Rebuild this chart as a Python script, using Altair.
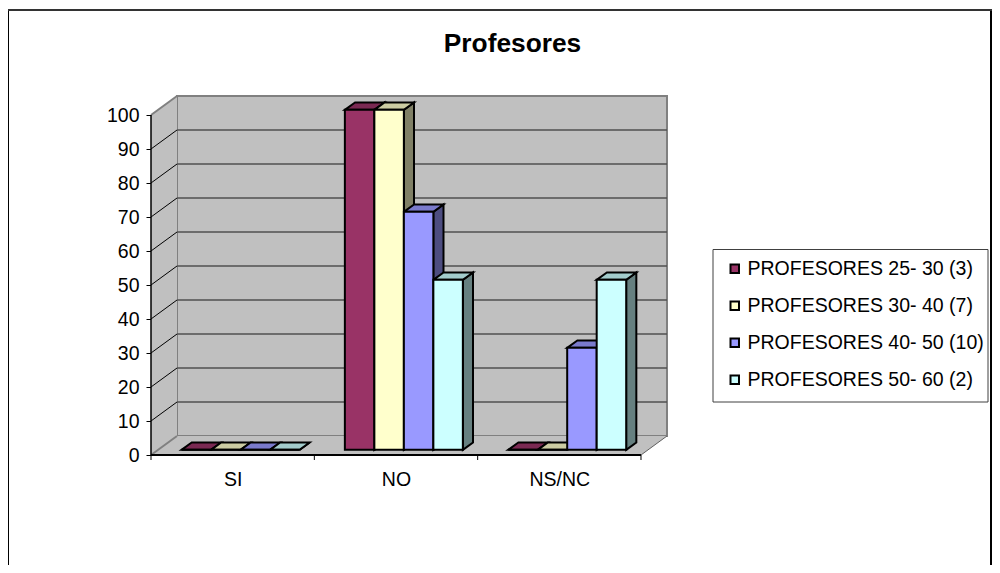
import altair as alt
import pandas as pd

CATEGORIES = ["SI", "NO", "NS/NC"]
SERIES = ["PROFESORES 25- 30 (3)", "PROFESORES 30- 40 (7)", "PROFESORES 40- 50 (10)", "PROFESORES 50- 60 (2)"]
VALUES_25_30 = [0, 100, 0]
VALUES_30_40 = [0, 100, 0]
VALUES_40_50 = [0, 70, 30]
VALUES_50_60 = [0, 50, 50]
ALL_VALUES = [VALUES_25_30, VALUES_30_40, VALUES_40_50, VALUES_50_60]
FRONT = ["#993366", "#FFFFCC", "#9999FF", "#CCFFFF"]
TOP = ["#7A2952", "#CCCCA3", "#7A7ACC", "#A3CCCC"]
SIDE = ["#4D1A33", "#808066", "#4D4D80", "#668080"]
TICKS = list(range(0, 101, 10))
FONT = "Liberation Sans"
FS = 19.5
W, H = 984, 557

def px(v):
    """page pixel -> position inside the plot area"""
    return v - 8

# oblique projection of the 3D box, in axis units
DX, DY = 26 / 163.33, 19 / 3.4
D0, D1 = 0.27, 0.66           # bar depth inside the box
GAP, BW = 0.144, 0.1806       # bar start inside a category and bar width

xs = alt.Scale(domain=[-px(151) / 163.33, (W - px(151)) / 163.33], nice=False, zero=False)
ys = alt.Scale(domain=[(px(455) - H) / 3.4, px(455) / 3.4], nice=False, zero=False)
colour = alt.Scale(domain=SERIES, range=FRONT)
sidec = alt.Scale(domain=SERIES, range=SIDE)
topc = alt.Scale(domain=SERIES, range=TOP)

fronts, tops, sides = [], [], []
for j, (name, vals) in enumerate(zip(SERIES, ALL_VALUES)):
    for i, v in enumerate(vals):
        u0 = i + GAP + j * BW
        u1 = u0 + BW
        key = f"{i}-{j}"
        fronts.append(dict(s=name, x=u0 + D0 * DX, x2=u1 + D0 * DX, y=D0 * DY, y2=v + D0 * DY))
        for d in (D0, D1):
            sides.append(dict(k=key, s=name, x=u1 + d * DX, y=d * DY, y2=v + d * DY))
            tops.append(dict(k=key, s=name, y=v + d * DY, x=u0 + d * DX, x2=u1 + d * DX))

y_axis = alt.Axis(values=TICKS, offset=-px(151), domain=False, grid=False, tickSize=5, tickColor="black",
                  tickWidth=1, labelFontSize=FS, labelFont=FONT, labelColor="black", labelPadding=7, title=None)
x_axis = alt.Axis(values=[0.5, 1.5, 2.5], offset=-(H - px(455)), domain=False, grid=False, ticks=False,
                  labelExpr="datum.value < 1 ? '%s' : datum.value < 2 ? '%s' : '%s'" % tuple(CATEGORIES),
                  labelFontSize=FS, labelFont=FONT, labelColor="black", labelPadding=15, title=None)
X = lambda f="x", **k: alt.X(f"{f}:Q", scale=xs, axis=x_axis, **k)
Y = lambda f="y", **k: alt.Y(f"{f}:Q", scale=ys, axis=y_axis, **k)

# walls
back = alt.Chart(pd.DataFrame([dict(x=DX, x2=3 + DX, y=DY, y2=100 + DY)])).mark_rect(
    fill="#C0C0C0", stroke="#808080", strokeWidth=2
).encode(x=X(), x2="x2:Q", y=Y(), y2="y2:Q")

left = alt.Chart(pd.DataFrame([dict(x=0, y=0, y2=100), dict(x=DX, y=DY, y2=100 + DY)])).mark_area(
    fill="#C0C0C0").encode(x=X(), y=Y(stack=None), y2="y2:Q")
floor = alt.Chart(pd.DataFrame([dict(y=0, x=0, x2=3), dict(y=DY, x=DX, x2=3 + DX)])).mark_area(
    fill="#C0C0C0", orient="horizontal").encode(y=Y(), x=X(stack=None), x2="x2:Q")

grid = alt.Chart(pd.DataFrame([dict(x=DX, x2=3 + DX, y=t + DY) for t in TICKS[1:-1]])).mark_rule(
    stroke="#505050", strokeWidth=1.5).encode(x=X(), x2="x2:Q", y=Y())
diag = alt.Chart(pd.DataFrame([dict(x=0, x2=DX, y=t, y2=t + DY) for t in TICKS[1:-1]])).mark_rule(
    stroke="black", strokeWidth=1).encode(x=X(), x2="x2:Q", y=Y(), y2="y2:Q")
edge = alt.Chart(pd.DataFrame([
    dict(x=0, x2=DX, y=0, y2=DY), dict(x=0, x2=DX, y=100, y2=100 + DY),
])).mark_rule(stroke="#808080", strokeWidth=2).encode(x=X(), x2="x2:Q", y=Y(), y2="y2:Q")
thin = alt.Chart(pd.DataFrame([dict(x=3, x2=3 + DX, y=0, y2=DY)])).mark_rule(
    stroke="#606060", strokeWidth=1).encode(x=X(), x2="x2:Q", y=Y(), y2="y2:Q")

# bars
side = alt.Chart(pd.DataFrame(sides)).mark_area(stroke="black", strokeWidth=2).encode(
    x=X(), y=Y(stack=None), y2="y2:Q", detail="k:N",
    fill=alt.Fill("s:N", scale=sidec, legend=None))
top = alt.Chart(pd.DataFrame(tops)).mark_area(stroke="black", strokeWidth=2, orient="horizontal").encode(
    y=Y(), x=X(stack=None), x2="x2:Q", detail="k:N",
    fill=alt.Fill("s:N", scale=topc, legend=None))
front = alt.Chart(pd.DataFrame(fronts)).mark_rect(stroke="black", strokeWidth=2).encode(
    x=X(), x2="x2:Q", y=Y(), y2="y2:Q",
    color=alt.Color("s:N", scale=colour, legend=alt.Legend(
        orient="none", legendX=717, legendY=251, title=None, symbolType="square", symbolSize=72,
        symbolStrokeColor="black", symbolStrokeWidth=2, labelFont=FONT, labelFontSize=FS,
        labelColor="black", labelLimit=400, labelOffset=3, rowPadding=16, fillColor="transparent")))

# axis lines in front
axis_y = alt.Chart(pd.DataFrame([dict(x=0, y=0, y2=100)])).mark_rule(stroke="black", strokeWidth=1.5).encode(
    x=X(), y=Y(), y2="y2:Q")
axis_x = alt.Chart(pd.DataFrame([dict(x=0, x2=3, y=0)])).mark_rule(stroke="black", strokeWidth=2).encode(
    x=X(), x2="x2:Q", y=Y())
xticks = alt.Chart(pd.DataFrame([dict(x=t) for t in range(4)])).mark_rule(stroke="black", strokeWidth=1).encode(
    x=X(), y=alt.YValue(px(455)), y2=alt.Y2Value(px(460)))

# legend box and outer frame
box = alt.Chart(pd.DataFrame([dict(a=0)])).mark_rect(fill="white", stroke="#404040", strokeWidth=1).encode(
    x=alt.XValue(px(713)), x2=alt.X2Value(px(988)), y=alt.YValue(px(249.5)), y2=alt.Y2Value(px(402)))
frame_l = alt.Chart(pd.DataFrame([dict(a=0)])).mark_rule(stroke="black", strokeWidth=2).encode(
    x=alt.XValue(0), y=alt.YValue(px(10)), y2=alt.Y2Value(H))
frame_r = alt.Chart(pd.DataFrame([dict(a=0)])).mark_rule(stroke="black", strokeWidth=2).encode(
    x=alt.XValue(W - 1), y=alt.YValue(px(10)), y2=alt.Y2Value(H))
frame_t = alt.Chart(pd.DataFrame([dict(a=0)])).mark_rule(stroke="#333333", strokeWidth=2).encode(
    x=alt.XValue(0), x2=alt.X2Value(W), y=alt.YValue(px(10)))

chart = alt.layer(
    frame_l, frame_r, frame_t, back, left, floor, grid, diag, edge, thin,
    side, top, front, axis_y, axis_x, xticks, box,
).resolve_scale(fill="independent").properties(
    width=W, height=H, padding=0, autosize="none", background="white",
    title=alt.TitleParams("Profesores", anchor="middle", font=FONT, fontSize=26.3, fontWeight="bold",
                          color="black", dx=px(512.5) - W / 2, dy=53),
).configure_view(stroke=None)

chart.save("out.html", embed_options={"renderer": "svg", "actions": False})
